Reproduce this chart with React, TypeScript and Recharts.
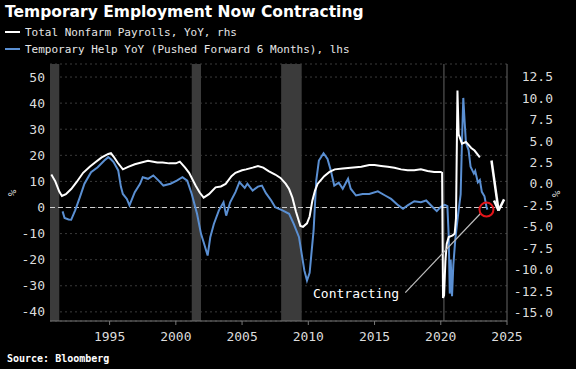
import React from "react";
import {
  LineChart, Line, XAxis, YAxis, CartesianGrid, ReferenceArea,
  ReferenceLine, ReferenceDot,
} from "recharts";

// Total nonfarm payrolls YoY % (right axis)
const payrollYears = [
  1990.6, 1990.9, 1991.2, 1991.4, 1991.7, 1992.1, 1992.5, 1993.0, 1993.5, 1993.9,
  1994.4, 1994.9, 1995.1, 1995.3, 1995.6, 1996.0, 1996.4, 1996.9, 1997.4, 1997.9,
  1998.3, 1998.6, 1999.0, 1999.5, 2000.0, 2000.3, 2000.7, 2001.0, 2001.5, 2001.8,
  2002.1, 2002.5, 2003.0, 2003.4, 2003.76, 2004.2, 2004.5, 2005.0, 2005.3, 2005.8,
  2006.2, 2006.6, 2007.0, 2007.5, 2007.9, 2008.3, 2008.55, 2008.8, 2009.06, 2009.4,
  2009.6, 2009.9, 2010.1, 2010.3, 2010.5, 2010.7, 2011.2, 2011.6, 2012.0, 2012.6,
  2013.2, 2014.0, 2014.6, 2015.0, 2015.5, 2016.0, 2016.5, 2017.0, 2017.5, 2018.0,
  2018.5, 2019.0, 2019.5, 2020.0, 2020.1, 2020.17, 2020.25, 2020.35, 2020.45, 2020.6,
  2020.9, 2021.05, 2021.15, 2021.26, 2021.35, 2021.6, 2021.9, 2022.3, 2022.55, 2022.95,
];
const payrollYoY = [
  1.1, 0.3, -0.9, -1.4, -1.2, -0.6, 0.2, 1.3, 2.0, 2.5,
  3.1, 3.5, 3.6, 3.2, 2.5, 1.7, 2.0, 2.3, 2.5, 2.7,
  2.6, 2.5, 2.5, 2.4, 2.4, 2.6, 1.9, 1.3, -0.2, -1.0,
  -1.6, -1.2, -0.4, -0.3, 0.0, 0.9, 1.3, 1.6, 1.7, 1.9,
  2.1, 1.9, 1.5, 1.1, 0.7, 0.0, -0.6, -1.6, -3.2, -4.9,
  -5.0, -4.6, -3.8, -2.0, -0.8, 0.0, 0.9, 1.4, 1.7, 1.8,
  1.9, 2.0, 2.2, 2.2, 2.1, 2.0, 1.9, 1.7, 1.6, 1.6,
  1.7, 1.5, 1.4, 1.4, 1.3, -13.3, -13.0, -9.0, -7.0, -6.2,
  -6.0, -5.8, -4.0, 10.9, 5.8, 4.7, 4.9, 4.2, 3.9, 3.1,
];

// Temporary help YoY %, pushed forward 6 months (left axis)
const tempYears = [
  1991.45, 1991.6, 1991.9, 1992.1, 1992.4, 1992.75, 1993.1, 1993.6, 1994.1, 1994.6,
  1994.9, 1995.1, 1995.3, 1995.65, 1995.85, 1996.0, 1996.3, 1996.5, 1996.9, 1997.3,
  1997.5, 1997.9, 1998.3, 1998.7, 1999.06, 1999.6, 2000.07, 2000.5, 2000.86, 2001.2,
  2001.6, 2001.9, 2002.1, 2002.4, 2002.6, 2002.87, 2003.25, 2003.6, 2003.8, 2004.1,
  2004.5, 2004.8, 2005.2, 2005.4, 2005.8, 2006.2, 2006.5, 2006.8, 2007.2, 2007.5,
  2008.05, 2008.55, 2008.9, 2009.3, 2009.7, 2009.9, 2010.1, 2010.4, 2010.6, 2010.8,
  2011.15, 2011.45, 2011.7, 2011.96, 2012.3, 2012.6, 2013.0, 2013.2, 2013.6, 2014.1,
  2014.6, 2015.25, 2015.8, 2016.25, 2016.8, 2017.15, 2017.5, 2018.0, 2018.5, 2018.9,
  2019.4, 2019.7, 2020.0, 2020.3, 2020.5, 2020.6, 2020.68, 2020.75, 2020.85, 2020.95,
  2021.1, 2021.3, 2021.5, 2021.6, 2021.7, 2021.8, 2021.9, 2022.1, 2022.25, 2022.5,
  2022.6, 2022.8, 2022.95, 2023.1, 2023.3, 2023.45, 2023.52,
];
const tempYoY = [
  -1.5, -4.0, -4.6, -4.7, -1.1, 3.9, 9.1, 13.5, 15.4, 18.0,
  19.3, 18.5, 17.4, 14.2, 8.0, 5.2, 3.3, 0.8, 5.9, 9.1,
  11.6, 11.0, 12.3, 10.3, 8.4, 9.1, 10.3, 11.6, 10.3, 5.2,
  -2.4, -10.1, -13.3, -18.4, -11.4, -6.3, -1.1, 2.0, -3.1, 2.0,
  5.9, 9.7, 7.5, 9.1, 6.5, 8.0, 8.4, 5.5, 2.7, 0.1,
  -1.1, -2.4, -6.3, -11.4, -24.1, -28.0, -25.0, -8.8, 10.3, 18.0,
  20.8, 18.6, 14.2, 8.4, 9.5, 7.2, 11.0, 7.2, 4.6, 5.2,
  5.2, 6.2, 4.6, 3.3, 0.8, -0.5, 0.8, 2.4, 2.0, 2.7,
  0.1, -1.4, 0.3, 1.0, 0.5, -11.0, -33.0, -20.0, -34.0, -22.0,
  -12.0, -3.0, 5.0, 25.0, 42.0, 33.0, 24.8, 22.0, 15.6, 13.0,
  14.0, 9.6, 10.5, 6.0, 4.3, 0.3, -0.8,
];

const yearTicks = [1995, 2000, 2005, 2010, 2015, 2020, 2025];
const leftTicks = [-40, -30, -20, -10, 0, 10, 20, 30, 40, 50];
const rightTicks = [-15, -12.5, -10, -7.5, -5, -2.5, 0, 2.5, 5, 7.5, 10, 12.5];

// shaded recessions
const recessionStarts = [1990.5, 2001.2, 2007.95, 2020.17];
const recessionEnds = [1991.2, 2001.9, 2009.5, 2020.3];

const payrollData = payrollYears.map((year, i) => ({ year, v: payrollYoY[i] }));
const tempData = tempYears.map((year, i) => ({ year, v: tempYoY[i] }));

const MONO = "'DejaVu Sans Mono', monospace";

const RightTick = ({ x, y, payload }: any) => (
  <text x={x + 46} y={y} dy={4.5} textAnchor="end" fill="#dcdcdc" fontSize={13} fontFamily={MONO}>
    {Number(payload.value).toFixed(1)}
  </text>
);

export default function App() {
  return (
    <div style={{ position: "absolute", left: 0, top: 0, width: 576, height: 369, background: "#000", overflow: "hidden" }}>
      <LineChart width={576} height={369} margin={{ top: 64, right: 19, bottom: 18, left: 10 }}>
        {recessionStarts.map((s, i) => (
          <ReferenceArea key={s} yAxisId="left" x1={s} x2={recessionEnds[i]} fill="#3b3b3b" fillOpacity={1} stroke="none" ifOverflow="hidden" />
        ))}
        <CartesianGrid yAxisId="left" vertical={false} stroke="#3a3a3a" strokeDasharray="2 3" />
        <XAxis
          dataKey="year" type="number" domain={[1990.5, 2025]} ticks={yearTicks} allowDataOverflow
          height={30} tickSize={4} tickMargin={7} interval={0}
          axisLine={{ stroke: "#777" }} tickLine={{ stroke: "#777" }}
          tick={{ fill: "#dcdcdc", fontSize: 13, fontFamily: MONO }}
        />
        <YAxis
          yAxisId="left" domain={[-43.5, 55]} ticks={leftTicks} allowDataOverflow width={40} interval={0}
          axisLine={false} tickLine={false} tickSize={5} tickMargin={0}
          tick={{ fill: "#dcdcdc", fontSize: 13, fontFamily: MONO }}
        />
        <YAxis
          yAxisId="right" orientation="right" domain={[-16, 14]} ticks={rightTicks} allowDataOverflow width={50} interval={0}
          axisLine={{ stroke: "#666" }} tickLine={false} tickSize={0} tickMargin={0}
          tick={<RightTick />}
        />
        <ReferenceLine yAxisId="left" y={0} stroke="#cfcfcf" strokeDasharray="5 3" strokeWidth={1} />
        <Line yAxisId="left" data={tempData} dataKey="v" type="linear" stroke="#5a8fd2" strokeWidth={2} dot={false} isAnimationActive={false} />
        <Line yAxisId="right" data={payrollData} dataKey="v" type="linear" stroke="#ffffff" strokeWidth={2} dot={false} isAnimationActive={false} />
        {/* connector from label to circle */}
        <ReferenceLine yAxisId="left" ifOverflow="visible" stroke="#bdbdbd" strokeWidth={1.2}
          segment={[{ x: 2017.32, y: -32.6 }, { x: 2023.0, y: -2.3 }]} />
        <ReferenceDot yAxisId="left" x={2023.45} y={-0.8} r={7} fill="none" stroke="#e3151a" strokeWidth={2} ifOverflow="visible" />
        {/* down arrow */}
        <ReferenceLine yAxisId="left" ifOverflow="visible" stroke="#fff" strokeWidth={2.5}
          segment={[{ x: 2023.83, y: 18.0 }, { x: 2024.36, y: -1.15 }]} />
        <ReferenceLine yAxisId="left" ifOverflow="visible" stroke="#fff" strokeWidth={2.5}
          segment={[{ x: 2024.02, y: 2.7 }, { x: 2024.36, y: -1.15 }]} />
        <ReferenceLine yAxisId="left" ifOverflow="visible" stroke="#fff" strokeWidth={2.5}
          segment={[{ x: 2024.78, y: 3.1 }, { x: 2024.36, y: -1.15 }]} />
      </LineChart>
      <svg width={576} height={369} style={{ position: "absolute", left: 0, top: 0, pointerEvents: "none" }}>
        <text x={5} y={17} fill="#fff" fontSize={15.5} fontWeight="bold" fontFamily="'DejaVu Sans', sans-serif">
          Temporary Employment Now Contracting
        </text>
        <line x1={5} x2={20} y1={32} y2={32} stroke="#fff" strokeWidth={2} />
        <text x={25} y={36} fill="#e6e6e6" fontSize={11} fontFamily={MONO}>Total Nonfarm Payrolls, YoY, rhs</text>
        <line x1={5} x2={20} y1={49} y2={49} stroke="#5a8fd2" strokeWidth={2} />
        <text x={25} y={53} fill="#e6e6e6" fontSize={11} fontFamily={MONO}>Temporary Help YoY (Pushed Forward 6 Months), lhs</text>
        <text x={0} y={0} transform="translate(16,193) rotate(-90)" textAnchor="middle" fill="#dcdcdc" fontSize={11} fontFamily={MONO}>%</text>
        <text x={0} y={0} transform="translate(560,194) rotate(-90)" textAnchor="middle" fill="#dcdcdc" fontSize={11} fontFamily={MONO}>%</text>
        <text x={313} y={298} fill="#fff" fontSize={13} fontFamily={MONO}>Contracting</text>
        <text x={7} y={362} fill="#fff" fontSize={10} fontWeight="bold" fontFamily={MONO}>Source: Bloomberg</text>
      </svg>
    </div>
  );
}
